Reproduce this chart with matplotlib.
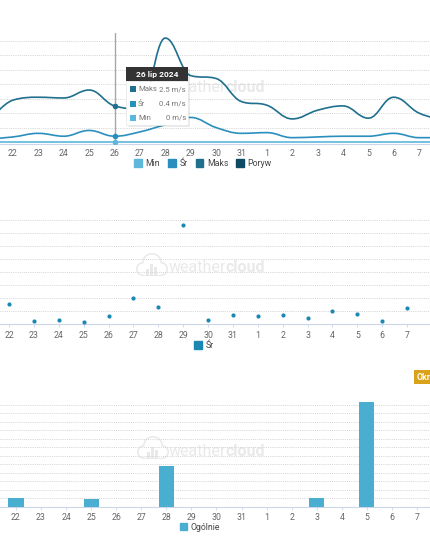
import matplotlib
matplotlib.use('Agg')
import matplotlib.pyplot as plt
import numpy as np
from matplotlib.path import Path
from matplotlib.patches import PathPatch, Patch, Rectangle, Circle

plt.rcParams['font.family'] = ['Roboto', 'DejaVu Sans']

# data
days = ['22', '23', '24', '25', '26', '27', '28', '29', '30', '31',
        '1', '2', '3', '4', '5', '6', '7']
# wind (m/s), first value is day 21, last is day 8 (off the edges)
wind_max = [1.3, 2.9, 3.1, 3.05, 3.6, 2.5, 2.3, 7.2, 4.6, 4.4, 2.8,
            2.55, 1.6, 2.2, 2.5, 1.65, 3.1, 2.0, 1.5]
wind_avg = [0.2, 0.35, 0.6, 0.4, 0.8, 0.4, 0.7, 1.2, 1.7, 1.0, 0.6,
            0.65, 0.3, 0.35, 0.4, 0.4, 0.6, 0.3, 0.3]
wind_min = [0] * 19
# middle chart, days 22 .. 8
mid_avg = [1.56, 0.28, 0.35, 0.18, 0.66, 2.03, 1.31, 7.67, 0.35,
           0.72, 0.66, 0.72, 0.46, 1.0, 0.77, 0.28, 1.25, 1.48]
# bottom chart, days 22 .. 7
rain = [1.05, 0, 0, 0.87, 0, 0, 4.8, 0, 0, 0, 0, 0, 1.05, 0, 12.3, 0, 0]

c_min = '#5db6dc'
c_avg = '#2a8fbd'
c_max = '#1f6f8e'
c_gust = '#0e4a63'
grid_c = '#d4d4d4'
lab_c = '#666666'

W, H = 430, 537


def spline_path(xs, ys, s=1.5):
    # highcharts-like smooth spline as bezier path
    n = len(xs)
    lc = [(xs[0], ys[0])] * n
    rc = [(xs[0], ys[0])] * n
    for i in range(n):
        if i == 0 or i == n - 1:
            lc[i] = rc[i] = (xs[i], ys[i])
            continue
        d = s + 1
        x, y = xs[i], ys[i]
        lx = (s * x + xs[i - 1]) / d
        ly = (s * y + ys[i - 1]) / d
        rx = (s * x + xs[i + 1]) / d
        ry = (s * y + ys[i + 1]) / d
        corr = ((ry - ly) * (rx - x)) / (rx - lx) + y - ry
        ly += corr
        ry += corr
        if ly > ys[i - 1] and ly > y:
            ly = max(ys[i - 1], y)
            ry = 2 * y - ly
        elif ly < ys[i - 1] and ly < y:
            ly = min(ys[i - 1], y)
            ry = 2 * y - ly
        if ry > ys[i + 1] and ry > y:
            ry = max(ys[i + 1], y)
            ly = 2 * y - ry
        elif ry < ys[i + 1] and ry < y:
            ry = min(ys[i + 1], y)
            ly = 2 * y - ry
        lc[i] = (lx, ly)
        rc[i] = (rx, ry)
    verts = [(xs[0], ys[0])]
    codes = [Path.MOVETO]
    for i in range(1, n):
        verts += [rc[i - 1], lc[i], (xs[i], ys[i])]
        codes += [Path.CURVE4] * 3
    return Path(verts, codes)


def px_axes(fig, x0, y0, x1, y1, **kw):
    return fig.add_axes([x0 / W, 1 - y1 / H, (x1 - x0) / W, (y1 - y0) / H], **kw)


def style_axes(ax, xlim, ylim, grid_vals):
    ax.set_xlim(*xlim)
    ax.set_ylim(*ylim)
    ax.patch.set_alpha(0)
    for s in ['top', 'right', 'left']:
        ax.spines[s].set_visible(False)
    ax.spines['bottom'].set_color('#ccd6eb')
    ax.spines['bottom'].set_linewidth(0.8)
    ax.set_yticks([])
    for g in grid_vals:
        ax.axhline(g, color=grid_c, lw=0.7, ls=(0, (1, 1.2)), zorder=0)
    ax.set_xticks(np.arange(len(days)))
    ax.set_xticklabels(days)
    ax.tick_params(axis='x', colors='#ccd6eb', labelcolor=lab_c,
                   labelsize=6.3, length=2.5, width=0.6, pad=2)


fig = plt.figure(figsize=(W / 100, H / 100), dpi=100)

# background overlay for watermarks
bg = fig.add_axes([0, 0, 1, 1], zorder=0)
bg.set_xlim(0, W)
bg.set_ylim(H, 0)
bg.axis('off')


def watermark(ax, cx, cy, tx, ty):
    wm = '#e9e9e9'
    for (dx, dy, r) in [(-8, 3, 7), (1, -3, 10), (10, 3, 7)]:
        ax.add_patch(Circle((cx + dx, cy + dy), r, color=wm, lw=0))
    ax.add_patch(Rectangle((cx - 8, cy + 3), 18, 7, color=wm, lw=0))
    for (dx, dy, r) in [(-8, 3, 5.5), (1, -3, 8.5), (10, 3, 5.5)]:
        ax.add_patch(Circle((cx + dx, cy + dy), r, color='white', lw=0))
    ax.add_patch(Rectangle((cx - 8, cy + 3), 18, 5.5, color='white', lw=0))
    for k, h in enumerate([6, 11, 8]):
        ax.add_patch(Rectangle((cx - 5 + k * 4, cy + 9 - h), 3, h, color=wm, lw=0))
    ax.text(tx, ty, 'weather', color=wm, fontsize=11.5, ha='right', va='center')
    ax.text(tx, ty, 'cloud', color=wm, fontsize=11.5, ha='left', va='center',
            fontweight='bold')


watermark(bg, 148, 86, 226, 88)
watermark(bg, 151, 266, 226, 268)
watermark(bg, 152, 449, 226, 451)

# ---- top chart: wind
ax1 = px_axes(fig, 0, 33, W, 143.5, zorder=1)
style_axes(ax1, (-0.512, 16.43), (-0.104, 7.55), range(1, 8))
ax1.tick_params(axis='x', length=0, pad=4)
xpos = np.arange(-1, 18)
ax1.axvline(4, color='#a8a8a8', lw=1.0, zorder=1)
ax1.add_patch(PathPatch(spline_path(xpos, wind_max), fc='none', ec=c_max, lw=1.2, zorder=3))
ax1.add_patch(PathPatch(spline_path(xpos, wind_avg), fc='none', ec=c_avg, lw=1.2, zorder=3))
ax1.plot(xpos, wind_min, color=c_min, lw=1.2, zorder=3)
ax1.plot([4], [wind_max[5]], 'o', color=c_max, ms=3, zorder=4)
ax1.plot([4], [wind_avg[5]], 'o', color=c_avg, ms=3, zorder=4)
ax1.plot([4], [wind_min[5]], 'o', color=c_min, ms=3, zorder=4)

fig.legend(handles=[Patch(color=c_min, label='Min'), Patch(color=c_avg, label='Śr'),
                    Patch(color=c_max, label='Maks'), Patch(color=c_gust, label='Poryw')],
           loc='center', bbox_to_anchor=(203 / W, 1 - 163.5 / H), ncol=4, frameon=False,
           fontsize=6.3, handlelength=0.9, handleheight=0.9, handletextpad=0.4,
           columnspacing=0.9, labelcolor='#444444')

# ---- middle chart
ax2 = px_axes(fig, 0, 205, W, 324.3, zorder=1)
style_axes(ax2, (-0.362, 16.92), (0, 9.18), range(1, 9))
ax2.scatter(np.arange(len(mid_avg)), mid_avg, s=9, color='#1b87b3', zorder=3,
            clip_on=True, lw=0)
fig.legend(handles=[Patch(color='#1b87b3', label='Śr')], loc='center',
           bbox_to_anchor=(204 / W, 1 - 345.5 / H), frameon=False, fontsize=6.3,
           handlelength=0.9, handleheight=0.9, handletextpad=0.4, labelcolor='#444444')

# ---- bottom chart
ax3 = px_axes(fig, 0, 395, W, 506.7, zorder=1)
style_axes(ax3, (-0.638, 16.52), (0, 13.14), range(1, 13))
ax3.bar(np.arange(len(rain)), rain, width=0.6, color='#4aaed0', zorder=3)
fig.legend(handles=[Patch(color='#4aaed0', label='Ogólnie')], loc='center',
           bbox_to_anchor=(200 / W, 1 - 527 / H), frameon=False, fontsize=6.3,
           handlelength=0.9, handleheight=0.9, handletextpad=0.4, labelcolor='#444444')

# ---- foreground overlay: tooltip and button
fg = fig.add_axes([0, 0, 1, 1], zorder=2)
fg.set_xlim(0, W)
fg.set_ylim(H, 0)
fg.axis('off')
fg.patch.set_alpha(0)
fg.add_patch(Rectangle((127.5, 68.5), 62, 58, color='#000000', alpha=0.08, lw=0))
fg.add_patch(Rectangle((126, 81), 62, 44, fc='white', ec='#e4e4e4', lw=0.5))
fg.add_patch(Rectangle((126, 67), 62, 14, color='#333333', lw=0))
fg.text(157, 74.5, '26 lip 2024', color='white', fontsize=6, fontweight='bold',
        ha='center', va='center')
rows = [('Maks', '2.5 m/s', c_max, 89), ('Śr', '0.4 m/s', c_avg, 104),
        ('Min', '0 m/s', c_min, 118)]
for name, val, col, y in rows:
    fg.add_patch(Rectangle((129.5, y - 3), 6, 6, color=col, lw=0))
    fg.text(138, y, name, color='#777777', fontsize=5.6, va='center')
    fg.text(186, y, val, color='#777777', fontsize=5.6, va='center', ha='right')

fg.text(417, 377, 'Okr', color='white', fontsize=6.3, fontweight='bold', va='center',
        bbox=dict(boxstyle='square,pad=0.3', fc='#d9a21b', ec='none'))

fig.savefig('out.png', dpi=100)
